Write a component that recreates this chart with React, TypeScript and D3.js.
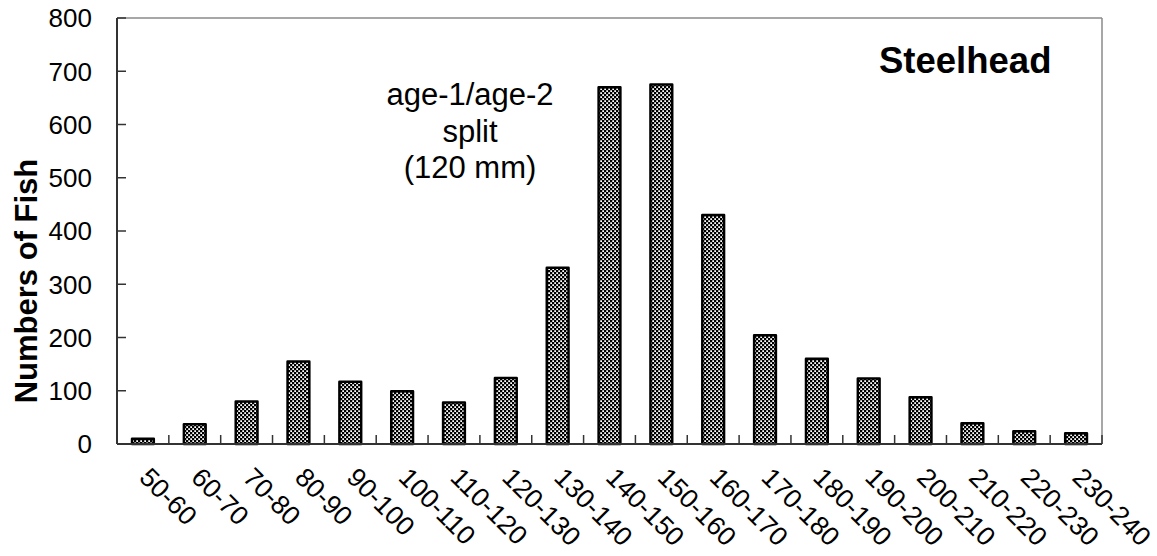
import React from "react";
import * as d3 from "d3";

const categories = [
  "50-60", "60-70", "70-80", "80-90", "90-100", "100-110", "110-120", "120-130",
  "130-140", "140-150", "150-160", "160-170", "170-180", "180-190", "190-200",
  "200-210", "210-220", "220-230", "230-240",
];
const counts = [10, 37, 80, 155, 117, 99, 78, 124, 331, 670, 675, 430, 204, 160, 123, 88, 39, 24, 20];
const yTicks = [0, 100, 200, 300, 400, 500, 600, 700, 800];
const annotationLines = ["age-1/age-2", "split", "(120 mm)"];
const speciesLabel = "Steelhead";
const yAxisTitle = "Numbers of Fish";

const W = 1157;
const H = 556;
const left = 117;
const right = 1102;
const top = 18;
const bottom = 444;
const FONT = "'Liberation Sans', Arial, sans-serif";

export default function App() {
  const x = d3.scaleBand<string>().domain(categories).range([left, right]).paddingInner(0).paddingOuter(0);
  const y = d3.scaleLinear().domain([0, 800]).range([bottom, top]);
  const bw = x.bandwidth();
  const barW = bw * 0.42;

  return (
    <svg width={W} height={H} style={{ position: "absolute", left: 0, top: 0, background: "#fff" }} fontFamily={FONT}>
      <defs>
        <pattern id="checker" width={4} height={4} patternUnits="userSpaceOnUse">
          <rect width={4} height={4} fill="#000" />
          <rect x={0.25} y={0.25} width={1.75} height={1.75} fill="#fff" />
          <rect x={2.25} y={2.25} width={1.75} height={1.75} fill="#fff" />
        </pattern>
      </defs>
      <rect x={0} y={0} width={W} height={H} fill="#fff" />

      {/* plot frame: top & right */}
      <line x1={left} x2={right} y1={top} y2={top} stroke="#8a8a8a" strokeWidth={1.5} />
      <line x1={right} x2={right} y1={top} y2={bottom} stroke="#8a8a8a" strokeWidth={1.5} />

      {/* bars */}
      {categories.map((c, i) => {
        const cx = (x(c) as number) + bw / 2;
        const v = counts[i];
        return (
          <rect
            key={c}
            x={cx - barW / 2}
            y={y(v)}
            width={barW}
            height={y(0) - y(v)}
            fill="url(#checker)"
            stroke="#000"
            strokeWidth={2.5}
            strokeLinejoin="round"
          />
        );
      })}

      {/* y axis */}
      <line x1={left} x2={left} y1={top} y2={bottom} stroke="#333" strokeWidth={2} />
      {yTicks.map((t) => (
        <g key={t}>
          <line x1={left} x2={left + 9} y1={y(t)} y2={y(t)} stroke="#333" strokeWidth={1.5} />
          <text x={92} y={y(t)} dy="0.36em" textAnchor="end" fontSize={26} fill="#000">
            {t}
          </text>
        </g>
      ))}

      {/* x axis */}
      <line x1={left} x2={right} y1={bottom} y2={bottom} stroke="#333" strokeWidth={2} />
      {categories.map((c, i) => {
        const bx = (x(c) as number) + bw;
        return <line key={"t" + i} x1={bx} x2={bx} y1={bottom} y2={bottom - 9} stroke="#333" strokeWidth={1.5} />;
      })}
      {categories.map((c) => {
        const cx = (x(c) as number) + bw / 2;
        const ax = cx - 5;
        const ay = 479;
        return (
          <text key={"l" + c} x={ax} y={ay} transform={`rotate(45 ${ax} ${ay})`} fontSize={26.5} fill="#000">
            {c}
          </text>
        );
      })}

      {/* y axis title */}
      <text
        transform={`translate(37 ${(157 + 405) / 2}) rotate(-90)`}
        textAnchor="middle"
        fontSize={31}
        fontWeight="bold"
        fill="#000"
      >
        {yAxisTitle}
      </text>

      {/* species label */}
      <text x={879} y={73} fontSize={36.5} fontWeight="bold" fill="#000">
        {speciesLabel}
      </text>

      {/* annotation */}
      {annotationLines.map((t, i) => (
        <text key={t} x={470} y={105 + i * 36.5} textAnchor="middle" fontSize={31} fill="#000">
          {t}
        </text>
      ))}
    </svg>
  );
}
